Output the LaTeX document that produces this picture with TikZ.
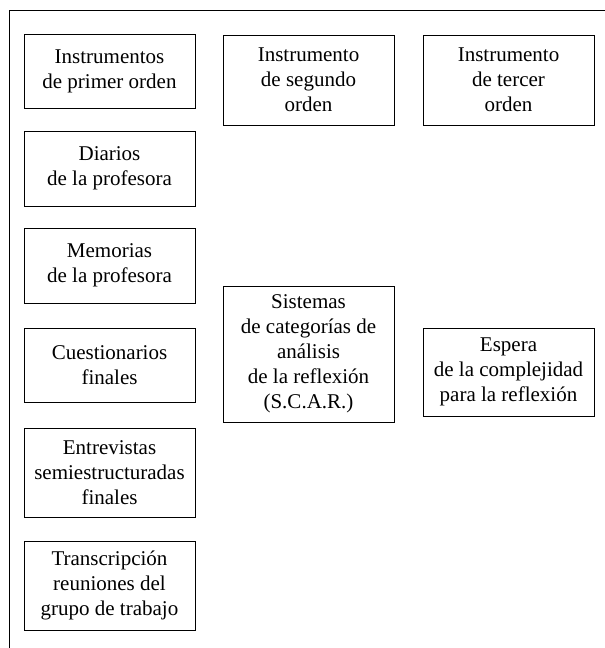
\documentclass[tikz,border=0pt]{standalone}
\usepackage{fontspec}
\setmainfont{Liberation Serif}
\usepackage{tikz}
\usetikzlibrary{positioning}

\begin{document}
\begin{tikzpicture}[x=1pt,y=-1pt,
    caja/.style={draw, line width=0.8pt, align=center, inner sep=0pt,
                 minimum width=171pt, font=\fontsize{21}{25}\selectfont}]
    \useasboundingbox (0,0) rectangle (605,648);
    % marco
    \draw[line width=0.8pt] (9,648) -- (9,10) -- (605,10);
    % primera columna
    \node[caja, minimum height=74pt] (primer) at (109.5,71) {Instrumentos\\de primer orden};
    \node[caja, minimum height=75pt] (diarios) at (109.5,168.5) {Diarios\\de la profesora};
    \node[caja, minimum height=75pt] (memorias) at (109.5,265.5) {Memorias\\de la profesora};
    \node[caja, minimum height=74pt] (cuest) at (109.5,365) {Cuestionarios\\finales};
    \node[caja, minimum height=89pt] (entrev) at (109.5,472.5) {Entrevistas\\semiestructuradas\\finales};
    \node[caja, minimum height=89pt] (transc) at (109.5,585.5) {Transcripción\\reuniones del\\grupo de trabajo};
    % segunda columna
    \node[caja, minimum height=90pt] (segundo) at (308.5,80) {Instrumento\\de segundo\\orden};
    \node[caja, minimum height=136pt] (scar) at (308.5,354) {Sistemas\\de categorías de\\análisis\\de la reflexión\\(S.C.A.R.)};
    % tercera columna
    \node[caja, minimum height=90pt] (tercer) at (508.5,80) {Instrumento\\de tercer\\orden};
    \node[caja, minimum height=88pt] (espera) at (508.5,372) {Espera\\de la complejidad\\para la reflexión};
\end{tikzpicture}
\end{document}
